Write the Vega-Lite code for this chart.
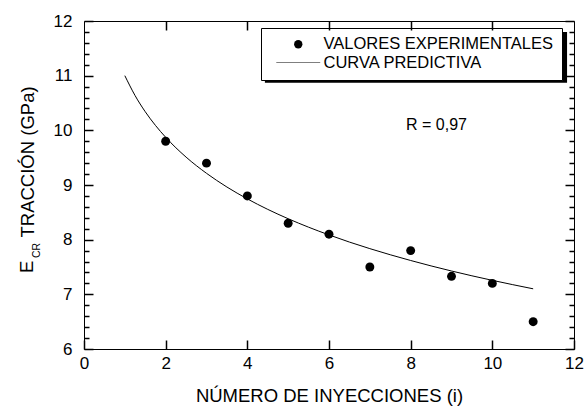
{
  "$schema": "https://vega.github.io/schema/vega-lite/v6.json",
  "width": 490,
  "height": 328,
  "autosize": {"type": "none"},
  "padding": {"left": 84, "top": 21, "right": 13, "bottom": 57},
  "background": "white",
  "config": {
    "view": {"stroke": "black", "strokeWidth": 1},
    "axis": {
      "grid": false,
      "labelFlush": false,
      "labelColor": "black",
      "titleColor": "black",
      "labelFont": "Liberation Sans",
      "titleFont": "Liberation Sans",
      "labelFontSize": 17,
      "titleFontSize": 18.5,
      "titleFontWeight": "normal"
    }
  },
  "datasets": {
    "exp": [
      {"i": 2, "E": 9.8},
      {"i": 3, "E": 9.4},
      {"i": 4, "E": 8.8},
      {"i": 5, "E": 8.3},
      {"i": 6, "E": 8.1},
      {"i": 7, "E": 7.5},
      {"i": 8, "E": 7.8},
      {"i": 9, "E": 7.33},
      {"i": 10, "E": 7.2},
      {"i": 11, "E": 6.5}
    ],
    "curve": [
      {"i": 1, "E": 11.0},
      {"i": 1.25, "E": 10.637},
      {"i": 1.5, "E": 10.34},
      {"i": 1.75, "E": 10.09},
      {"i": 2, "E": 9.873},
      {"i": 2.5, "E": 9.51},
      {"i": 3, "E": 9.214},
      {"i": 3.5, "E": 8.963},
      {"i": 4, "E": 8.746},
      {"i": 4.5, "E": 8.554},
      {"i": 5, "E": 8.383},
      {"i": 5.5, "E": 8.228},
      {"i": 6, "E": 8.087},
      {"i": 6.5, "E": 7.956},
      {"i": 7, "E": 7.836},
      {"i": 7.5, "E": 7.724},
      {"i": 8, "E": 7.619},
      {"i": 8.5, "E": 7.52},
      {"i": 9, "E": 7.427},
      {"i": 9.5, "E": 7.339},
      {"i": 10, "E": 7.256},
      {"i": 10.5, "E": 7.177},
      {"i": 11, "E": 7.101}
    ],
    "one": [{}]
  },
  "layer": [
    {
      "data": {"name": "curve"},
      "mark": {"type": "line", "color": "black", "strokeWidth": 1, "interpolate": "monotone"},
      "encoding": {
        "x": {"field": "i", "type": "quantitative", "scale": {"domain": [0, 12], "nice": false, "zero": false},
              "axis": {"orient": "bottom", "zindex": 1, "domain": false, "offset": -9, "values": [0, 2, 4, 6, 8, 10, 12], "tickColor": "black", "tickWidth": 1.5, "tickSize": 9, "labelPadding": 6,
                       "title": "NÚMERO DE INYECCIONES (i)", "titleY": 61, "titleBaseline": "alphabetic"}},
        "y": {"field": "E", "type": "quantitative", "scale": {"domain": [6, 12], "nice": false, "zero": false},
              "axis": {"orient": "left", "zindex": 1, "domain": false, "offset": -9, "values": [6, 7, 8, 9, 10, 11, 12], "tickColor": "black", "tickWidth": 1.5, "tickSize": 9, "labelPadding": 12,
                       "title": "TRACCIÓN  (GPa)", "titleAngle": 270, "titleAlign": "left", "titleBaseline": "alphabetic",
                       "titleX": -60, "titleY": 216}}
      }
    },
    {
      "data": {"name": "exp"},
      "mark": {"type": "point", "filled": true, "color": "black", "size": 80, "opacity": 1},
      "encoding": {
        "x": {"field": "i", "type": "quantitative", "scale": {"domain": [0, 12], "nice": false, "zero": false},
              "axis": {"orient": "top", "zindex": 1, "domain": false, "values": [2, 4, 6, 8, 10], "tickColor": "black", "tickWidth": 1.5, "tickSize": -9, "labels": false, "title": null}},
        "y": {"field": "E", "type": "quantitative", "scale": {"domain": [6, 12], "nice": false, "zero": false},
              "axis": {"orient": "right", "zindex": 1, "domain": false, "values": [6, 7, 8, 9, 10, 11, 12], "tickColor": "black", "tickWidth": 1.5, "tickSize": -9, "labels": false, "title": null}},
        "shape": {
          "datum": "VALORES EXPERIMENTALES",
          "type": "nominal",
          "scale": {"domain": ["VALORES EXPERIMENTALES", "CURVA PREDICTIVA"], "range": ["circle", "M-5.25,-0.06L5.25,-0.06L5.25,0.06L-5.25,0.06Z"]},
          "legend": {
            "title": null,
            "orient": "none",
            "legendX": 177,
            "legendY": 7,
            "padding": 8,
            "symbolOffset": 21,
            "labelOffset": 17,
            "labelLimit": 0,
            "labelFont": "Liberation Sans",
            "labelFontSize": 16.5,
            "labelColor": "black",
            "rowPadding": 1.5,
            "fillColor": "white",
            "strokeColor": "black",
            "symbolFillColor": "black",
            "symbolStrokeColor": "black",
            "symbolStrokeWidth": 1,
            "symbolSize": 70,
            "symbolOpacity": 1,
            "encode": {
              "legend": {"update": {"strokeWidth": {"value": 1.5}}},
              "symbols": {"update": {"stroke": {"value": "black"}, "strokeWidth": {"value": 1}, "fill": {"value": "black"}, "opacity": {"value": 1}}}
            }
          }
        }
      }
    },
    {
      "data": {"name": "one"},
      "mark": {"type": "rect", "color": "black", "opacity": 1},
      "encoding": {
        "x": {"datum": 4.43, "type": "quantitative", "scale": {"domain": [0, 12], "nice": false, "zero": false},
              "axis": null},
        "x2": {"datum": 11.83},
        "y": {"datum": 11.8, "type": "quantitative", "scale": {"domain": [6, 12], "nice": false, "zero": false},
              "axis": {"orient": "left", "zindex": 1, "domain": false, "values": [6.2, 6.4, 6.6, 6.8, 7.2, 7.4, 7.6, 7.8, 8.2, 8.4, 8.6, 8.8, 9.2, 9.4, 9.6, 9.8, 10.2, 10.4, 10.6, 10.8, 11.2, 11.4, 11.6, 11.8],
                       "tickColor": "black", "tickWidth": 1.5, "tickSize": -5, "labels": false, "title": null}},
        "y2": {"datum": 10.87}
      }
    },
    {
      "data": {"name": "one"},
      "mark": {"type": "text", "text": "R = 0,97", "align": "left", "baseline": "alphabetic", "fontSize": 16, "font": "Liberation Sans", "color": "black"},
      "encoding": {
        "x": {"datum": 7.886, "type": "quantitative", "scale": {"domain": [0, 12], "nice": false, "zero": false}, "axis": null},
        "y": {"datum": 10.0, "type": "quantitative", "scale": {"domain": [6, 12], "nice": false, "zero": false},
              "axis": {"orient": "right", "zindex": 1, "domain": false, "values": [6.2, 6.4, 6.6, 6.8, 7.2, 7.4, 7.6, 7.8, 8.2, 8.4, 8.6, 8.8, 9.2, 9.4, 9.6, 9.8, 10.2, 10.4, 10.6, 10.8, 11.2, 11.4, 11.6, 11.8],
                       "tickColor": "black", "tickWidth": 1.5, "tickSize": -5, "labels": false, "title": null}}
      }
    },
    {
      "data": {"name": "one"},
      "mark": {"type": "text", "text": "E", "angle": 270, "align": "left", "baseline": "alphabetic", "fontSize": 18.5, "font": "Liberation Sans", "color": "black"},
      "encoding": {
        "x": {"datum": -1.249, "type": "quantitative", "scale": {"domain": [0, 12], "nice": false, "zero": false}, "axis": null},
        "y": {"datum": 7.39, "type": "quantitative", "scale": {"domain": [6, 12], "nice": false, "zero": false}, "axis": null}
      }
    },
    {
      "data": {"name": "one"},
      "mark": {"type": "text", "text": "CR", "angle": 270, "align": "left", "baseline": "alphabetic", "fontSize": 10.5, "font": "Liberation Sans", "color": "black"},
      "encoding": {
        "x": {"datum": -1.078, "type": "quantitative", "scale": {"domain": [0, 12], "nice": false, "zero": false}, "axis": null},
        "y": {"datum": 7.665, "type": "quantitative", "scale": {"domain": [6, 12], "nice": false, "zero": false}, "axis": null}
      }
    }
  ],
  "resolve": {"axis": {"x": "independent", "y": "independent"}}
}
